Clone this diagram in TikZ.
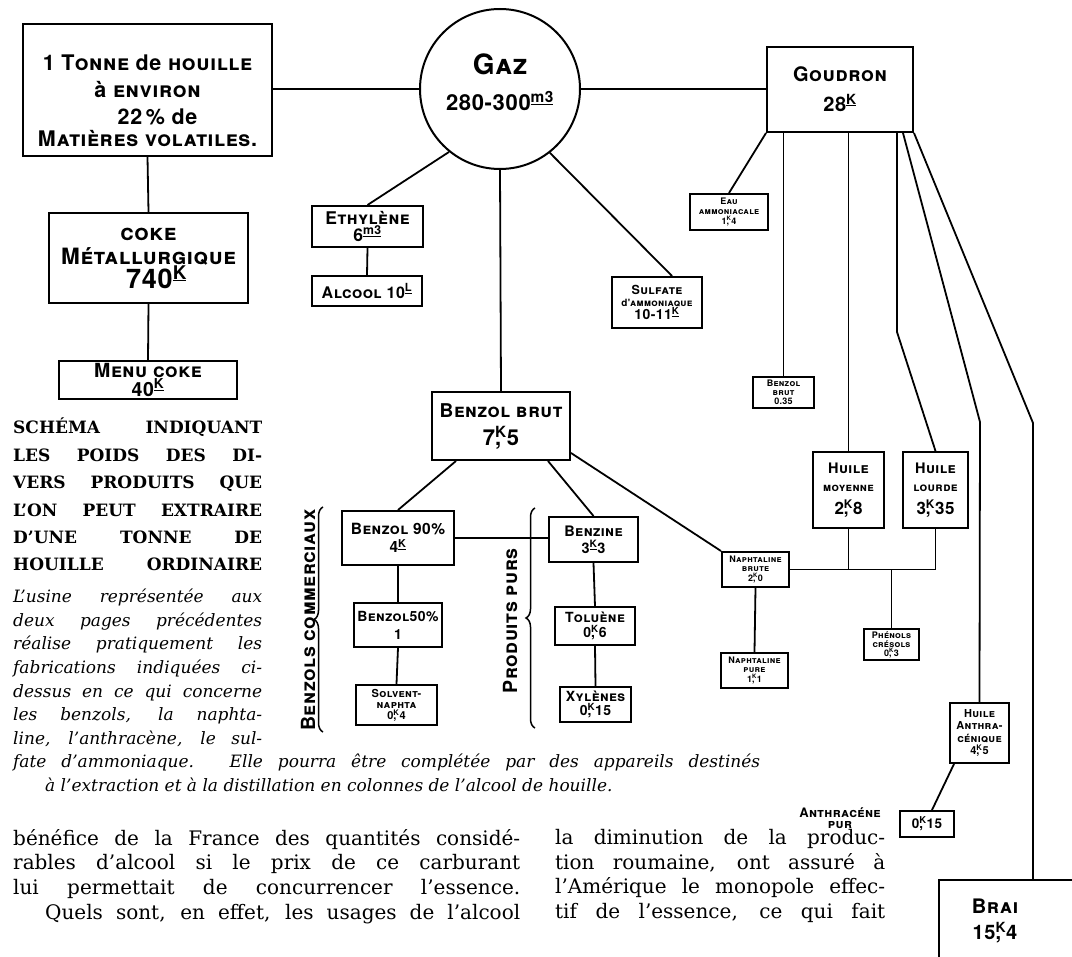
\documentclass[tikz,border=0pt]{standalone}
\usepackage{fontspec}
\usetikzlibrary{calc,decorations.pathreplacing}
\setmainfont{DejaVu Serif}
\newfontfamily\lettering[LetterSpace=3]{TeX Gyre Heros}
\newcommand\fs[2]{\fontsize{#1}{#2}\selectfont}
% weights: K raised and underlined, K with the comma under it
\newcommand\kil{\textsuperscript{\underline{K}}}
\newcommand\kv{\rlap{,}\textsuperscript{K}}
\newcommand\mtrois{\textsuperscript{\underline{\upshape m3}}}
\newcommand\lit{\textsuperscript{\underline{L}}}
% one justified line of text
\newcommand\jl[2]{\hbox to #1{#2}}

\begin{document}
\begin{tikzpicture}[x=1pt,y=-1pt,
    box/.style={draw,line width=2pt,rectangle,inner sep=1pt,align=center},
    lettre/.style={font=\lettering\bfseries\scshape\fs{#1}{#1}},
    link/.style={line width=1.8pt},
    accol/.style={line width=1.5pt,decorate,decoration={brace,amplitude=9pt}},
    txt/.style={inner sep=0pt,align=left,anchor=north west}]
    \useasboundingbox (0,0) rectangle (1072,957);
    % Coal and gas
    \node[box,minimum width=249pt,minimum height=132pt,
      font=\lettering\bfseries\scshape\fs{21.5}{27}] (tonne) at (147.5,90)
      {\rule{0pt}{38pt}1 Tonne {\upshape de} houille\\ {\upshape à} environ\\
       \hspace*{20pt}22\,\% {\upshape de}\\[-5pt] Matières volatiles.};
    \node[draw,circle,line width=2pt,minimum size=160pt] (gaz) at (500,89) {};
    \node[align=center,inner sep=0pt,font=\lettering\bfseries\scshape\fs{28}{36}] (gaztexte) at (500,82)
      {Gaz\\ {\fs{22}{24}280-300\mtrois}};
    \node[box,minimum width=146pt,minimum height=85pt,
      font=\lettering\bfseries\scshape\fs{20}{30}] (goudron) at (840,89.5) {Goudron\\28\kil};
    % Coke
    \node[box,minimum width=199pt,minimum height=90pt,
      font=\lettering\bfseries\scshape\fs{22.5}{24}] (coke) at (148.5,258)
      {coke\\Métallurgique\\{\fs{27}{28}\hspace*{16pt}740\kil}};
    \node[box,minimum width=178pt,minimum height=38pt,
      font=\lettering\bfseries\scshape\fs{19.5}{17}] (menucoke) at (148,380) {Menu coke\\40\kil};
    % Gas products
    \node[box,minimum width=111pt,minimum height=41pt,
      font=\lettering\bfseries\scshape\fs{17.5}{15}] (ethylene) at (367.5,226.5) {Ethylène\\6\mtrois};
    \node[box,minimum width=110pt,minimum height=30pt,lettre=16] (alcool) at (367,291) {Alcool 10\lit};
    \node[box,minimum width=90pt,minimum height=51pt,
      font=\lettering\bfseries\scshape\fs{12.5}{12}] (sulfate) at (657,302.5)
      {Sulfate\\{\fs{10}{11}{\upshape d'}ammoniaque}\\{\fs{14}{16}10-11\kil}};
    \node[box,minimum width=78pt,minimum height=36pt,
      font=\lettering\bfseries\scshape\fs{9}{10}] (eau) at (729,212) {Eau\\ammoniacale\\1\kv4};
    \node[box,minimum width=61pt,minimum height=31pt,
      font=\lettering\bfseries\scshape\fs{9}{9}] (bbrut) at (783.5,392.5) {Benzol\\brut\\0.35};
    % Benzols
    \node[box,minimum width=138pt,minimum height=68pt,
      font=\lettering\bfseries\scshape\fs{19}{28}] (benzolbrut) at (501,426) {Benzol brut\\{\fs{22}{28}7\kv5}};
    \node[box,minimum width=112pt,minimum height=54pt,
      font=\lettering\bfseries\scshape\fs{15.5}{18}] (benzol90) at (398,538) {Benzol 90\%\\4\kil};
    \node[box,minimum width=89pt,minimum height=45pt,
      font=\lettering\bfseries\scshape\fs{14.5}{17}] (benzine) at (593.5,539.5) {Benzine\\3\kil3};
    \node[box,minimum width=88pt,minimum height=44pt,
      font=\lettering\bfseries\scshape\fs{14}{18}] (benzol50) at (398,625) {Benzol50\%\\1};
    \node[box,minimum width=81pt,minimum height=40pt,
      font=\lettering\bfseries\scshape\fs{11}{11}] (solvent) at (396.5,705) {Solvent-\\naphta\\0\kv4};
    \node[box,minimum width=80pt,minimum height=38pt,
      font=\lettering\bfseries\scshape\fs{14}{15}] (toluene) at (595,626) {Toluène\\0\kv6};
    \node[box,minimum width=71pt,minimum height=35pt,
      font=\lettering\bfseries\scshape\fs{14}{14}] (xylenes) at (595.5,704.5) {Xylènes\\0\kv15};
    \node[rotate=90,lettre=19.5] (commerciaux) at (308,620) {Benzols commerciaux};
    \node[rotate=90,lettre=19.5] (purs) at (510,621) {Produits purs};
    % Tar products
    \node[box,minimum width=67pt,minimum height=35pt,
      font=\lettering\bfseries\scshape\fs{9}{9.5}] (naphbrute) at (755.5,569.5) {Naphtaline\\brute\\2\kv0};
    \node[box,minimum width=67pt,minimum height=35pt,
      font=\lettering\bfseries\scshape\fs{9}{9.5}] (naphpure) at (754.5,670.5) {Naphtaline\\pure\\1\kv1};
    \node[box,minimum width=71pt,minimum height=76pt,
      font=\lettering\bfseries\scshape\fs{14.5}{18}] (moyenne) at (848.5,490)
      {Huile\\{\fs{11.5}{18}moyenne}\\[5pt]{\fs{17}{19}2\kv8}};
    \node[box,minimum width=65pt,minimum height=76pt,
      font=\lettering\bfseries\scshape\fs{14.5}{18}] (lourde) at (935.5,490)
      {Huile\\{\fs{12}{18}lourde}\\[5pt]{\fs{17}{19}3\kv35}};
    \node[box,minimum width=55pt,minimum height=31pt,
      font=\lettering\bfseries\scshape\fs{9}{9}] (phenols) at (891.5,644.5) {Phénols\\crésols\\0\kv3};
    \node[box,minimum width=59pt,minimum height=60pt,
      font=\lettering\bfseries\scshape\fs{11}{12.5}] (anthra) at (979.5,733) {Huile\\Anthra-\\cénique\\4\kv5};
    \node[box,minimum width=54pt,minimum height=26pt,lettre=13.5] (pur) at (927,824) {0\kv15};
    \node[inner sep=0pt,align=center,font=\lettering\bfseries\scshape\fs{13}{11.5}] (purlabel) at (840,818) {Anthracéne\\pur};
    \node[box,anchor=north west,minimum width=150pt,minimum height=82pt,
      font=\lettering\bfseries\scshape\fs{20}{26}] (brai) at (938,879)
      {Brai\hspace*{38pt}\\15\kv4\hspace*{38pt}};
    % Links
    \draw[link] (gaz.west) -- (gaz.west -| tonne.east);
    \draw[link] (gaz.east) -- (gaz.east -| goudron.west);
    \draw[link] (tonne.south) -- (coke.north);
    \draw[link] (coke.south) -- (menucoke.north);
    \draw[link] (gaz.231) -- (ethylene.north);
    \draw[link] (ethylene.south) -- (alcool.north);
    \draw[link] (gaz.south) -- (benzolbrut.north);
    \draw[link] (gaz.-52) -- ($(sulfate.north)+(15,0)$);
    \draw[link] (goudron.south west) -- (eau.north);
    \draw[link] (bbrut.north |- goudron.south) -- (bbrut.north);
    \draw[link] (moyenne.north |- goudron.south) -- (moyenne.north);
    \coordinate (lcoude) at (897,332);
    \coordinate (acoude) at (980,422);
    \coordinate (bcoude) at (1033,423);
    \draw[link] (lcoude |- goudron.south) -- (lcoude) -- (lourde.north);
    \draw[link] ($(goudron.south east)+(-11,0)$) -- (acoude) -- (anthra.north);
    \draw[link] (goudron.south east) -- (bcoude) -- (bcoude |- brai.north);
    \draw[link] ($(benzolbrut.south west)+(25,0)$) -- (benzol90.north);
    \draw[link] ($(benzolbrut.south east)+(-23,0)$) -- (benzine.north);
    \draw[link] ($(benzolbrut.north east)+(0,62)$) -- (naphbrute.north west);
    \draw[link] (benzol90.east) -- (benzol90.east -| benzine.west);
    \draw[link] (benzol90.south) -- (benzol50.north);
    \draw[link] (benzol50.south) -- (solvent.north);
    \draw[link] (benzine.south) -- (toluene.north);
    \draw[link] (toluene.south) -- (xylenes.north);
    \draw[link] (naphbrute.south) -- (naphpure.north);
    \draw[link] (naphbrute.east) -- (naphbrute.east -| lourde.south) -- (lourde.south);
    \draw[link] (moyenne.south) -- (moyenne.south |- naphbrute.east);
    \draw[link] (phenols.north |- naphbrute.east) -- (phenols.north);
    \draw[link] ($(anthra.south west)+(5,0)$) -- ($(pur.north)+(5,0)$);
    % Braces
    \draw[accol] (323,732) -- (323,507);
    \draw[accol] (535,728) -- (535,508);
    % Captions
    \node[txt,font=\bfseries\fs{17}{27.4}] (schema) at (13,418)
      {\jl{249pt}{SCHÉMA INDIQUANT}\\ \jl{249pt}{LES POIDS DES DI-}\\
       \jl{249pt}{VERS PRODUITS QUE}\\ \jl{249pt}{L'ON PEUT EXTRAIRE}\\
       \jl{249pt}{D'UNE TONNE DE}\\ \jl{249pt}{HOUILLE ORDINAIRE}};
    \node[txt,font=\itshape\fs{17}{23.6}] (usine) at (13,589)
      {\jl{249pt}{L'usine représentée aux}\\ \jl{249pt}{deux pages précédentes}\\
       \jl{249pt}{réalise pratiquement les}\\ \jl{249pt}{fabrications indiquées ci-}\\
       \jl{249pt}{dessus en ce qui concerne}\\ \jl{249pt}{les benzols, la naphta-}\\
       \jl{249pt}{line, l'anthracène, le sul-}\\
       \jl{747pt}{fate d'ammoniaque. Elle pourra être complétée par des appareils destinés}\\
       \hspace*{32pt}à l'extraction et à la distillation en colonnes de l'alcool de houille.};
    \node[txt,font=\fs{20}{24.7}] (gauche) at (13,829)
      {\jl{507pt}{bénéfice de la France des quantités considé-}\\
       \jl{507pt}{rables d'alcool si le prix de ce carburant}\\
       \jl{507pt}{lui permettait de concurrencer l'essence.}\\
       \jl{507pt}{\hspace*{32pt}Quels sont, en effet, les usages de l'alcool}};
    \node[txt,font=\fs{20}{24.7}] (droite) at (555,829)
      {\jl{330pt}{la diminution de la produc-}\\
       \jl{330pt}{tion roumaine, ont assuré à}\\
       \jl{330pt}{l'Amérique le monopole effec-}\\
       \jl{330pt}{tif de l'essence, ce qui fait}};
\end{tikzpicture}
\end{document}
